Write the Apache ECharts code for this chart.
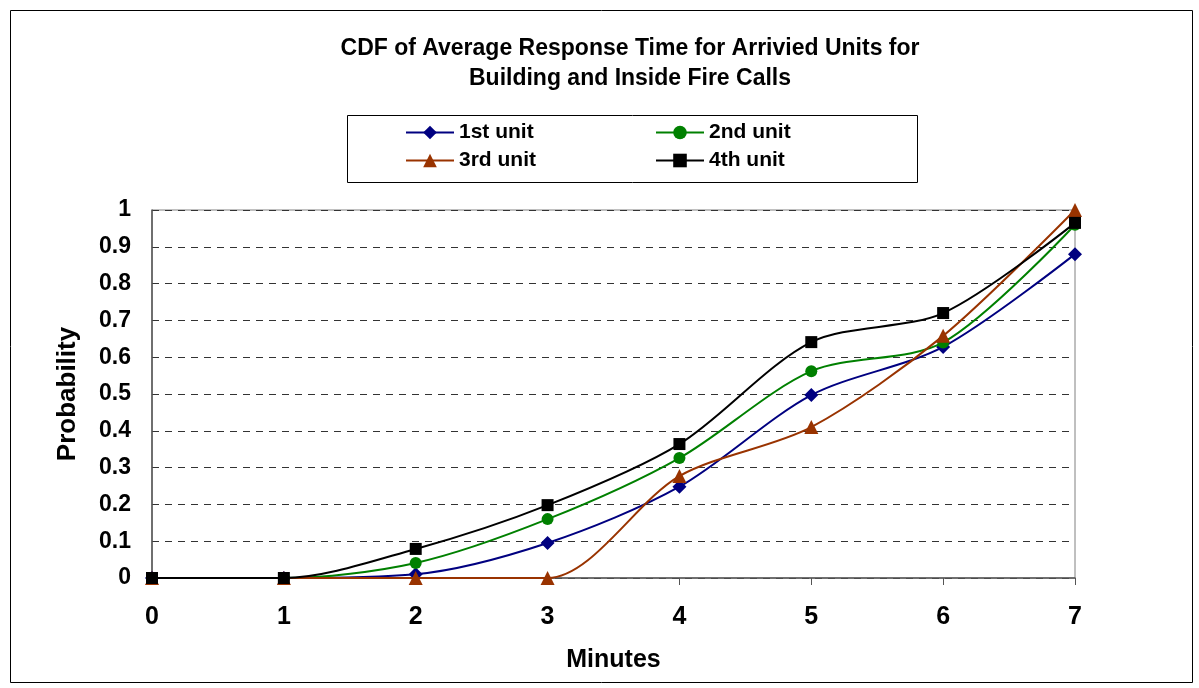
<!DOCTYPE html>
<html>
<head>
<meta charset="utf-8">
<script src="https://cdn.jsdelivr.net/npm/echarts@6/dist/echarts.min.js"></script>
<style>
  html, body { margin: 0; padding: 0; background: #fff; }
  #chart { width: 1199px; height: 688px; }
</style>
</head>
<body>
<div id="chart"></div>
<script>
// minutes on the x axis
var minutes = ['0', '1', '2', '3', '4', '5', '6', '7'];

// probability per unit
var unit1 = [0, 0, 0.01, 0.095, 0.248, 0.497, 0.628, 0.88];
var unit2 = [0, 0, 0.041, 0.16, 0.326, 0.562, 0.64, 0.96];
var unit3 = [0, 0, 0, 0, 0.277, 0.41, 0.658, 1.0];
var unit4 = [0, 0, 0.079, 0.198, 0.364, 0.641, 0.72, 0.965];

var names = ['1st unit', '2nd unit', '3rd unit', '4th unit'];
var colors = ['#000080', '#008000', '#993300', '#000000'];
var symbols = ['diamond', 'circle', 'triangle', 'rect'];
var sizes = [14, 12, 14, 12];
var values = [unit1, unit2, unit3, unit4];

var myChart = echarts.init(document.getElementById('chart'));

var font = 'Liberation Sans, Arial, sans-serif';

var series = values.map(function (v, i) {
    return {
        name: names[i],
        type: 'line',
        data: v,
        smooth: 0.3,
        symbol: symbols[i],
        symbolSize: sizes[i],
        showAllSymbol: true,
        lineStyle: { color: colors[i], width: 2 },
        itemStyle: { color: colors[i] },
        z: 10 + i
    };
});

var legendText = { fontFamily: font, fontWeight: 'bold', fontSize: 21, color: '#000' };

option = {
    animation: false,
    backgroundColor: '#fff',
    title: {
        text: 'CDF of Average Response Time for Arrivied Units for\nBuilding and Inside Fire Calls',
        left: 625,
        textAlign: 'center',
        top: 29,
        textStyle: { fontFamily: font, fontWeight: 'bold', fontSize: 23, lineHeight: 30, color: '#000' }
    },
    legend: [{
        data: ['1st unit', '3rd unit'],
        orient: 'vertical',
        left: 400,
        top: 117,
        itemWidth: 48,
        itemHeight: 17,
        itemGap: 7,
        textStyle: legendText
    }, {
        data: ['2nd unit', '4th unit'],
        orient: 'vertical',
        left: 650,
        top: 117,
        itemWidth: 48,
        itemHeight: 17,
        itemGap: 7,
        textStyle: legendText
    }],
    graphic: [{
        type: 'rect',
        left: 8, top: 8,
        shape: { width: 1182, height: 672 },
        style: { fill: null, stroke: '#000', lineWidth: 1 },
        silent: true
    }, {
        type: 'rect',
        left: 345, top: 113,
        shape: { width: 570, height: 67 },
        style: { fill: null, stroke: '#000', lineWidth: 1 },
        silent: true
    }],
    grid: {
        left: 152,
        right: 124,
        top: 210,
        bottom: 110,
        show: true,
        borderColor: '#808080',
        borderWidth: 1
    },
    xAxis: {
        type: 'category',
        data: minutes,
        boundaryGap: false,
        name: 'Minutes',
        nameLocation: 'middle',
        nameGap: 70,
        nameTextStyle: { fontFamily: font, fontWeight: 'bold', fontSize: 25, color: '#000' },
        axisLine: { lineStyle: { color: '#555', width: 1.5 } },
        axisTick: { show: true, alignWithLabel: true, length: 7, lineStyle: { color: '#555' } },
        axisLabel: { fontFamily: font, fontWeight: 'bold', fontSize: 25, color: '#000', margin: 27 },
        splitLine: { show: false }
    },
    yAxis: {
        type: 'value',
        min: 0,
        max: 1,
        interval: 0.1,
        name: 'Probability',
        nameLocation: 'middle',
        nameGap: 71,
        nameRotate: 90,
        nameTextStyle: { fontFamily: font, fontWeight: 'bold', fontSize: 26, color: '#000' },
        axisLine: { show: true, lineStyle: { color: '#555', width: 1.5 } },
        axisTick: { show: false },
        axisLabel: { fontFamily: font, fontWeight: 'bold', fontSize: 23, color: '#000', margin: 21 },
        splitLine: { show: true, lineStyle: { color: '#333', type: [7, 6], width: 1 } }
    },
    series: series
};

myChart.setOption(option);
</script>
</body>
</html>
